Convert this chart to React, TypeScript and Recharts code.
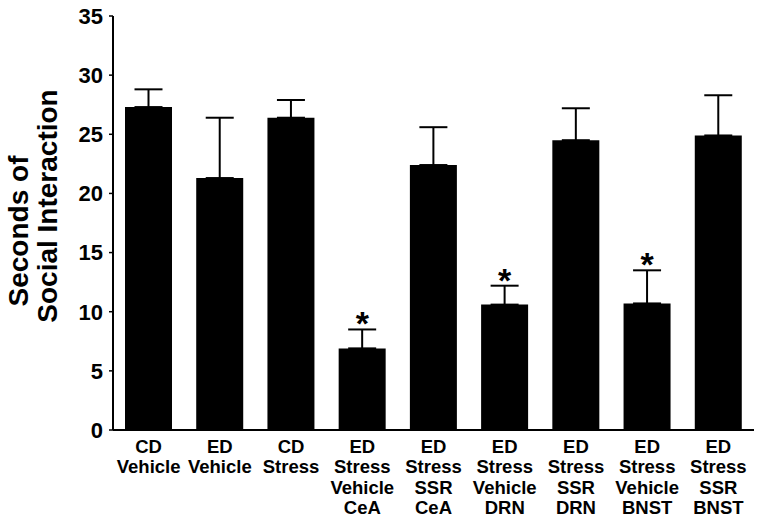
import React from "react";
import {
  Bar,
  ComposedChart,
  ErrorBar,
  Scatter,
  XAxis,
  YAxis,
} from "recharts";

// ── Data ──────────────────────────────────────────────────────────────────────

const groups = [
  "CD\nVehicle",
  "ED\nVehicle",
  "CD\nStress",
  "ED\nStress\nVehicle\nCeA",
  "ED\nStress\nSSR\nCeA",
  "ED\nStress\nVehicle\nDRN",
  "ED\nStress\nSSR\nDRN",
  "ED\nStress\nVehicle\nBNST",
  "ED\nStress\nSSR\nBNST",
];
const means = [27.3, 21.3, 26.4, 6.9, 22.4, 10.6, 24.5, 10.7, 24.9];
const sems = [1.5, 5.1, 1.5, 1.6, 3.2, 1.6, 2.7, 2.8, 3.4];
const significant = [false, false, false, true, false, true, false, true, false];
const yTicks = [0, 5, 10, 15, 20, 25, 30, 35];

const data = groups.map((name, i) => ({
  name,
  mean: means[i],
  err: [0, sems[i]],
  star: significant[i] ? means[i] + sems[i] : null,
}));

const FONT = "'Liberation Sans', Arial, sans-serif";

// ── Pieces ────────────────────────────────────────────────────────────────────

function GroupTick({ x, y, payload }: any) {
  const lines = String(payload.value).split("\n");
  return (
    <text
      x={x}
      y={y}
      textAnchor="middle"
      fontFamily={FONT}
      fontWeight="bold"
      fontSize={18.5}
      fill="#000"
    >
      {lines.map((l, i) => (
        <tspan key={i} x={x} dy={i === 0 ? 15 : 20.3}>
          {l}
        </tspan>
      ))}
    </text>
  );
}

function Star({ cx, cy, payload }: any) {
  if (payload.star == null) return null;
  return (
    <text
      x={cx}
      y={cy + 6}
      textAnchor="middle"
      fontFamily={FONT}
      fontWeight="bold"
      fontSize={34}
      fill="#000"
    >
      *
    </text>
  );
}

function AxisTitle() {
  const common = {
    textAnchor: "middle" as const,
    fontFamily: FONT,
    fontWeight: "bold",
    fontSize: 28,
    fill: "#000",
  };
  return (
    <g>
      <text {...common} transform="translate(28,231) rotate(-90)">
        Seconds of
      </text>
      <text {...common} transform="translate(57,206) rotate(-90)">
        Social Interaction
      </text>
    </g>
  );
}

export default function App() {
  return (
    <div style={{ position: "absolute", left: 0, top: 0, background: "#fff" }}>
      <ComposedChart
        width={762}
        height={523}
        data={data}
        margin={{ top: 16, right: 8, bottom: 0, left: 0 }}
        barSize={47}
      >
        <XAxis
          dataKey="name"
          interval={0}
          height={93}
          tickLine={false}
          axisLine={{ stroke: "#000", strokeWidth: 2 }}
          tick={<GroupTick />}
        />
        <YAxis
          type="number"
          domain={[0, 35]}
          ticks={yTicks}
          width={113}
          tickSize={4}
          tickMargin={6}
          axisLine={{ stroke: "#000", strokeWidth: 2 }}
          tickLine={{ stroke: "#000", strokeWidth: 1.5 }}
          tick={{ fill: "#000", fontSize: 22, fontWeight: "bold", fontFamily: FONT }}
          label={{ content: () => <AxisTitle /> }}
        />
        <Bar dataKey="mean" fill="#000" isAnimationActive={false}>
          <ErrorBar
            dataKey="err"
            direction="y"
            width={14}
            stroke="#000"
            strokeWidth={2}
            isAnimationActive={false}
          />
        </Bar>
        <Scatter dataKey="star" shape={<Star />} isAnimationActive={false} />
      </ComposedChart>
    </div>
  );
}
